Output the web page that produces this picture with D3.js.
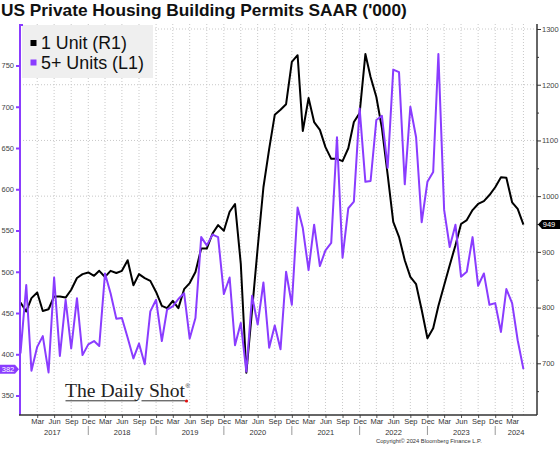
<!DOCTYPE html>
<html>
<head>
<meta charset="utf-8">
<script src="https://cdn.jsdelivr.net/npm/d3@7"></script>
<style>
  html, body { margin: 0; padding: 0; background: #fff; }
  svg { display: block; font-family: "Liberation Sans", Arial, sans-serif; }
</style>
</head>
<body>
<svg id="chart" width="560" height="449"></svg>
<script>
// monthly data, Dec 2016 .. May 2024 (plotted at month end)
const months = d3.timeMonth.range(new Date(2016, 11, 1), new Date(2024, 5, 1));

// 1 Unit, right axis ('000 SAAR)
const oneUnit = [
  809, 793, 817, 827, 794, 797, 820, 820, 818, 832,
  853, 860, 863, 857, 866, 855, 866, 862, 866, 885,
  840, 860, 853, 848, 828, 803, 799, 812, 799, 833,
  844, 864, 906, 906, 933, 948, 938, 972, 986, 879,
  683, 796, 907, 1016, 1085, 1146, 1155, 1165, 1241, 1253,
  1117, 1176, 1133, 1119, 1088, 1067, 1067, 1063, 1086, 1133,
  1149, 1255, 1214, 1178, 1122, 1038, 954, 927, 885, 855,
  842, 796, 745, 763, 803, 840, 876, 912, 950, 957,
  975, 986, 991, 1002, 1016, 1034, 1033, 989, 977, 949
];

// 5+ Units, left axis
const fivePlus = [
  401, 484, 380, 409, 422, 378, 493, 398, 466, 407,
  468, 399, 412, 416, 410, 498, 474, 443, 444, 420,
  395, 413, 388, 452, 466, 416, 454, 458, 467, 474,
  419, 444, 542, 532, 545, 542, 473, 493, 411, 438,
  379, 471, 436, 487, 408, 435, 406, 500, 460, 578,
  553, 502, 557, 507, 526, 535, 663, 517, 577, 585,
  698, 609, 610, 684, 689, 626, 745, 742, 606, 700,
  663, 560, 609, 621, 764, 575, 530, 557, 494, 500,
  542, 483, 498, 460, 462, 427, 479, 462, 417, 382
];

const leftTicks = [350, 400, 450, 500, 550, 600, 650, 700, 750];
const rightTicks = [700, 800, 900, 1000, 1100, 1200, 1300];
const rightMinor = [650, 750, 850, 950, 1050, 1150, 1250];
const monthLabels = ["Mar", "Jun", "Sep", "Dec"];
const years = [2017, 2018, 2019, 2020, 2021, 2022, 2023, 2024];

const purple = "#8a3cff";
const plotL = 20, plotR = 537, plotT = 24, plotB = 415;

const svg = d3.select("#chart");

const endOf = d => d3.timeMonth.offset(d, 1);

const x = d3.scaleTime()
  .domain([new Date(2017, 0, 1), new Date(2024, 7, 13)])
  .range([plotL + 0.5, plotR]);

const yL = d3.scaleLinear().domain([326.4, 800.3]).range([plotB, plotT]);
const yR = d3.scaleLinear().domain([607.2, 1309]).range([plotB, plotT]);

// title
const title = svg.append("text")
  .attr("x", 1).attr("y", 16)
  .attr("font-size", 16).attr("font-weight", "bold")
  .attr("fill", "#111")
  .text("US Private Housing Building Permits SAAR ('000)");
fit(title, 406);

// grid
const qTicks = d3.timeMonth.range(new Date(2017, 3, 1), new Date(2024, 4, 1), 3);
const grid = svg.append("g").attr("stroke", "#c8c8c8").attr("stroke-dasharray", "1,2");
grid.selectAll("line.h")
  .data(rightTicks)
  .join("line")
  .attr("class", "h")
  .attr("x1", plotL).attr("x2", plotR)
  .attr("y1", d => yR(d)).attr("y2", d => yR(d));
grid.selectAll("line.v")
  .data(qTicks.concat([endOf(months[months.length - 1])]))
  .join("line")
  .attr("class", "v")
  .attr("x1", d => x(d)).attr("x2", d => x(d))
  .attr("y1", plotT).attr("y2", plotB);

// legend box
svg.append("rect")
  .attr("x", 22).attr("y", plotT + 1).attr("width", 131).attr("height", 53)
  .attr("fill", "#efefef");

// lines
const lineR = d3.line().x((d, i) => x(endOf(months[i]))).y(d => yR(d));
const lineL = d3.line().x((d, i) => x(endOf(months[i]))).y(d => yL(d));

svg.append("path")
  .datum(oneUnit)
  .attr("d", lineR)
  .attr("fill", "none").attr("stroke", "#000").attr("stroke-width", 2)
  .attr("stroke-linejoin", "round");

svg.append("path")
  .datum(fivePlus)
  .attr("d", lineL)
  .attr("fill", "none").attr("stroke", purple).attr("stroke-width", 2)
  .attr("stroke-linejoin", "round");

// legend entries
const legend = svg.append("g");
[["1 Unit (R1)", "#000", 49, 86], ["5+ Units (L1)", purple, 68.5, 103]].forEach(([label, col, yb, w]) => {
  legend.append("rect")
    .attr("x", 30.5).attr("y", yb - 9).attr("width", 6).attr("height", 6)
    .attr("fill", col);
  const t = legend.append("text")
    .attr("x", 41).attr("y", yb)
    .attr("font-size", 17).attr("fill", "#111")
    .text(label);
  fit(t, w);
});

// left axis
const axL = svg.append("g")
  .attr("transform", `translate(${plotL},0)`)
  .call(d3.axisLeft(yL).tickValues(leftTicks).tickSize(4).tickPadding(2))
  .call(g => g.select(".domain").remove());
axL.selectAll(".tick line").attr("stroke", purple).attr("stroke-width", 2);
axL.selectAll(".tick text").attr("fill", "#444").attr("font-size", 7.5)
  .attr("font-family", "Liberation Sans, Arial, sans-serif");
svg.append("line")
  .attr("x1", plotL).attr("x2", plotL).attr("y1", plotT).attr("y2", plotB)
  .attr("stroke", purple).attr("stroke-width", 2);
svg.append("line")
  .attr("x1", plotL).attr("x2", plotL + 3).attr("y1", plotT + 1).attr("y2", plotT + 1)
  .attr("stroke", purple).attr("stroke-width", 2);

// right axis
const axR = svg.append("g")
  .attr("transform", `translate(${plotR},0)`)
  .call(d3.axisRight(yR).tickValues(rightTicks).tickSize(4).tickPadding(1).tickFormat(d3.format("d")))
  .call(g => g.select(".domain").remove());
axR.selectAll(".tick line").attr("stroke", "#333");
axR.selectAll(".tick text").attr("fill", "#444").attr("font-size", 7.5)
  .attr("font-family", "Liberation Sans, Arial, sans-serif");
svg.append("g")
  .attr("transform", `translate(${plotR},0)`)
  .call(d3.axisRight(yR).tickValues(rightMinor).tickSize(2).tickFormat(""))
  .call(g => g.select(".domain").remove())
  .selectAll(".tick line").attr("stroke", "#333");
svg.append("line")
  .attr("x1", plotR).attr("x2", plotR).attr("y1", plotT).attr("y2", plotB)
  .attr("stroke", "#333").attr("stroke-width", 1.5);

// bottom axis
const axB = svg.append("g")
  .attr("transform", `translate(0,${plotB})`)
  .call(d3.axisBottom(x).tickValues(qTicks).tickSize(3).tickPadding(1)
    .tickFormat(d => monthLabels[((d.getMonth() + 11) % 12) / 3 | 0]))
  .call(g => g.select(".domain").remove());
axB.selectAll(".tick line").attr("stroke", "#555");
axB.selectAll(".tick text").attr("fill", "#333").attr("font-size", 7.5)
  .attr("font-family", "Liberation Sans, Arial, sans-serif");
svg.append("line")
  .attr("x1", plotL - 1).attr("x2", plotR).attr("y1", plotB).attr("y2", plotB)
  .attr("stroke", "#333").attr("stroke-width", 1.5);

// year labels and separators
const yearG = svg.append("g");
years.forEach(yr => {
  const xa = Math.max(x(new Date(yr, 0, 1)), plotL);
  const xb = Math.min(x(new Date(yr + 1, 0, 1)), plotR);
  yearG.append("text")
    .attr("x", (xa + xb) / 2 - (yr === 2017 ? 2 : 0)).attr("y", 434.5)
    .attr("text-anchor", "middle").attr("font-size", 7.5).attr("fill", "#333")
    .text(yr);
  if (yr > 2017) {
    yearG.append("line")
      .attr("x1", xa).attr("x2", xa).attr("y1", 426).attr("y2", 435)
      .attr("stroke", "#999");
  }
});

// end value tags
const lastR = oneUnit[oneUnit.length - 1];
const lastL = fivePlus[fivePlus.length - 1];
const ty = yR(lastR);
svg.append("path")
  .attr("d", `M${plotR + 1},${ty} L${plotR + 5},${ty - 4.5} L560,${ty - 4.5} L560,${ty + 4.5} L${plotR + 5},${ty + 4.5} Z`)
  .attr("fill", "#000");
svg.append("text")
  .attr("x", plotR + 12).attr("y", ty + 2.6)
  .attr("text-anchor", "middle").attr("font-size", 7.5).attr("fill", "#fff")
  .text(lastR);
const tl = yL(lastL);
svg.append("path")
  .attr("d", `M0,${tl - 4.5} L15,${tl - 4.5} L${plotL - 1},${tl} L15,${tl + 4.5} L0,${tl + 4.5} Z`)
  .attr("fill", purple);
svg.append("text")
  .attr("x", 8).attr("y", tl + 2.6)
  .attr("text-anchor", "middle").attr("font-size", 7.5).attr("fill", "#fff")
  .text(lastL);

// watermark
const wm = svg.append("text")
  .attr("x", 65).attr("y", 397)
  .attr("font-family", "Liberation Serif, Times New Roman, serif")
  .attr("font-size", 19).attr("fill", "#222")
  .text("The Daily Shot");
fit(wm, 120);
svg.append("text")
  .attr("x", 185.5).attr("y", 388)
  .attr("font-family", "Liberation Sans, sans-serif")
  .attr("font-size", 6).attr("fill", "#222")
  .text("®");
svg.append("line").attr("x1", 65.5).attr("x2", 136.5).attr("y1", 400.8).attr("y2", 400.8)
  .attr("stroke", "#333").attr("stroke-width", 1);
svg.append("line").attr("x1", 141.5).attr("x2", 185).attr("y1", 400.8).attr("y2", 400.8)
  .attr("stroke", "#333").attr("stroke-width", 1);
svg.append("circle").attr("cx", 186.5).attr("cy", 401).attr("r", 1.6).attr("fill", "#e01010");

// copyright
const cp = svg.append("text")
  .attr("x", 376).attr("y", 443)
  .attr("font-size", 5.5).attr("fill", "#333")
  .text("Copyright© 2024 Bloomberg Finance L.P.");
fit(cp, 106);

function fit(t, w) {
  const cur = t.node().getComputedTextLength();
  const fs = parseFloat(t.attr("font-size"));
  if (cur > 0) t.attr("font-size", fs * w / cur);
}
</script>
</body>
</html>
